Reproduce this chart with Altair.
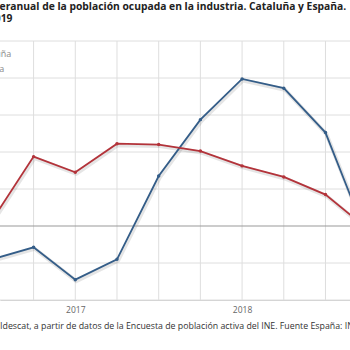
import altair as alt
import pandas as pd

quarters = [2016.5, 2016.75, 2017.0, 2017.25, 2017.5, 2017.75, 2018.0, 2018.25, 2018.5, 2018.75]
cataluna = [-1.8, -1.15, -2.9, -1.8, 2.7, 5.75, 7.95, 7.45, 5.05, -0.65]
espana = [0.3, 3.75, 2.9, 4.45, 4.4, 4.05, 3.25, 2.65, 1.7, -0.15]
series_names = ["Cataluña", "España"]
series_colors = ["#345d88", "#b3333a"]
y_grid = [-4, -2, 2, 4, 6, 8, 10]
x_grid = [2016.75, 2017.0, 2017.25, 2017.5, 2017.75, 2018.0, 2018.25, 2018.5]
x_labels = [2017, 2018]

title_lines = [
    "Variación interanual de la población ocupada en la industria. Cataluña y España.",
    "Años 2016-2019",
]
source_text = ("Fuente Cataluña: Idescat, a partir de datos de la Encuesta de población "
               "activa del INE. Fuente España: INE.")

rows = []
for name, vals in zip(series_names, [cataluna, espana]):
    for q, v in zip(quarters, vals):
        rows.append({"serie": name, "t": q, "v": v})
df = pd.DataFrame(rows)
vgrid_df = pd.DataFrame({"t": x_grid})
hgrid_df = pd.DataFrame({"v": y_grid})
zero_df = pd.DataFrame({"v": [0]})

FONT = "Open Sans"
GRID = "#dedede"
x_scale = alt.Scale(domain=[2016.5486, 2018.647], nice=False, zero=False)
y_scale = alt.Scale(domain=[-4, 10], nice=False)

x_axis = alt.Axis(
    values=x_labels,
    format="d",
    grid=False,
    ticks=False,
    labelFlush=False,
    labelOverlap=False,
    domainColor="#cccccc",
    labelColor="#666666",
    labelFontSize=8.5,
    labelFont=FONT,
    labelPadding=5,
    title=source_text,
    titleFont=FONT,
    titleFontSize=8.8,
    titleFontWeight="normal",
    titleColor="#333333",
    titleAnchor="start",
    titleAlign="left",
    titleBaseline="alphabetic",
    titleX=-72,
    titleY=28,
)
y_axis = alt.Axis(
    labels=False,
    ticks=False,
    domain=False,
    grid=False,
    title=None,
)

x_enc = alt.X("t:Q", scale=x_scale, axis=x_axis)
y_enc = alt.Y("v:Q", scale=y_scale, axis=y_axis)

vgrid = alt.Chart(vgrid_df).mark_rule(color=GRID, strokeWidth=1).encode(x=x_enc)
hgrid = alt.Chart(hgrid_df).mark_rule(color=GRID, strokeWidth=1).encode(y=y_enc)
zero = alt.Chart(zero_df).mark_rule(color="#999999", strokeWidth=1).encode(y=y_enc)

shadow = alt.Chart(df).mark_line(
    color="#000000", opacity=0.10, strokeWidth=4, xOffset=1, yOffset=1.5
).encode(x=x_enc, y=y_enc, detail="serie:N")

color_scale = alt.Scale(domain=series_names, range=series_colors)

lines = alt.Chart(df).mark_line(strokeWidth=1.8).encode(
    x=x_enc,
    y=y_enc,
    color=alt.Color(
        "serie:N",
        scale=color_scale,
        legend=alt.Legend(
            title=None,
            orient="none",
            legendX=-42,
            legendY=7,
            symbolType="stroke",
            symbolStrokeWidth=2,
            labelFont=FONT,
            labelFontSize=9,
            labelColor="#8a8a8a",
            rowPadding=3.5,
        ),
    ),
)
points = alt.Chart(df).mark_point(filled=True, size=12, opacity=1).encode(
    x=x_enc, y=y_enc, color=alt.Color("serie:N", legend=None, scale=color_scale)
)

chart = alt.layer(vgrid, hgrid, shadow, zero, lines, points).properties(
    width=350,
    height=259,
    padding={"left": 0, "top": 41, "right": 0, "bottom": 50},
    autosize=alt.AutoSizeParams(type="none"),
    title=alt.TitleParams(
        text=title_lines,
        anchor="start",
        frame="group",
        font=FONT,
        fontSize=10.3,
        fontWeight="bold",
        color="#222222",
        dx=-66,
        offset=16,
        lineHeight=12,
    ),
).configure_view(stroke=None)

chart.save("out.html", embed_options={"renderer": "svg", "actions": False})
